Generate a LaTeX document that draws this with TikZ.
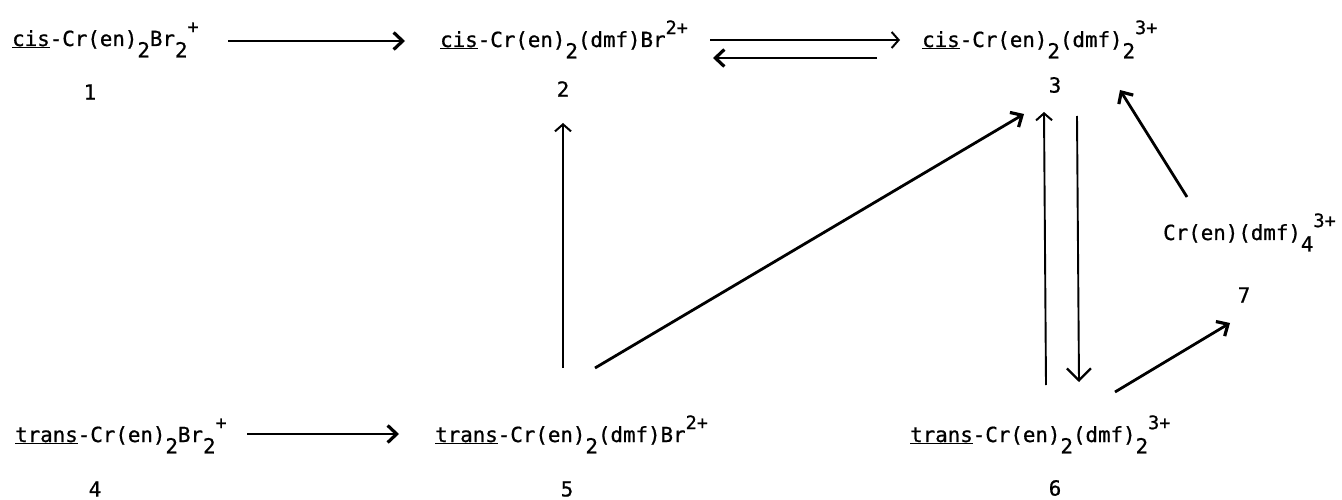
\documentclass[tikz,border=0pt]{standalone}
\usepackage{fontspec}
\usetikzlibrary{arrows.meta}
\newfontfamily\tw[FakeBold=0.8]{DejaVu Sans Mono}
\newcommand\lo[1]{\raisebox{-0.55em}{#1}}
\newcommand\hi[1]{\raisebox{0.62em}{\fontsize{18.5}{20}\selectfont #1}}
\tikzset{
  cmpd/.style={anchor=base west, inner sep=0pt, font=\tw\fontsize{20.8}{24}\selectfont},
  lab/.style={inner sep=0pt, font=\tw\fontsize{20.8}{24}\selectfont},
  arr/.style={line width=2.8pt, -{Straight Barb[length=9pt,width=17pt,line width=3.2pt]}},
  thinarr/.style={line width=1.9pt, -{Straight Barb[length=7pt,width=16pt,line width=2pt]}},
  bigthin/.style={line width=1.9pt, -{Straight Barb[length=12pt,width=24pt,line width=2.3pt]}},
}
\begin{document}
\begin{tikzpicture}[x=1pt,y=-1pt]
\useasboundingbox (0,0) rectangle (1342,500);
% compounds
\node[cmpd] (c1) at (12,46) {\underline{cis}-Cr(en)\lo{2}Br\lo{2}\hi{+}};
\node[lab] (l1) at (90,92) {1};
\node[cmpd] (c2) at (440,47) {\underline{cis}-Cr(en)\lo{2}(dmf)Br\hi{2+}};
\node[lab] (l2) at (563,89) {2};
\node[cmpd] (c3) at (922,47) {\underline{cis}-Cr(en)\lo{2}(dmf)\lo{2}\hi{3+}};
\node[lab] (l3) at (1055,85) {3};
\node[cmpd] (c4) at (15,442) {\underline{trans}-Cr(en)\lo{2}Br\lo{2}\hi{+}};
\node[lab] (l4) at (95,489) {4};
\node[cmpd] (c5) at (435,442) {\underline{trans}-Cr(en)\lo{2}(dmf)Br\hi{2+}};
\node[lab] (l5) at (567,489) {5};
\node[cmpd] (c6) at (910,442) {\underline{trans}-Cr(en)\lo{2}(dmf)\lo{2}\hi{3+}};
\node[lab] (l6) at (1055,488) {6};
\node[cmpd] (c7) at (1163,240) {Cr(en)(dmf)\lo{4}\hi{3+}};
\node[lab] (l7) at (1244,295) {7};
% connector ends
\coordinate (a12s) at (228,41);  \coordinate (a12e) at (405,41);
\coordinate (a23s) at (710,40);  \coordinate (a23e) at (900,40);
\coordinate (a32s) at (877,58);  \coordinate (a32e) at (713,58);
\coordinate (a45s) at (247,434); \coordinate (a45e) at (399,434);
\coordinate (a52s) at (563,368); \coordinate (a52e) at (563,123);
\coordinate (a53s) at (595,368); \coordinate (a53e) at (1024,114);
\coordinate (a63s) at (1046,385); \coordinate (a63e) at (1044,112);
\coordinate (a36s) at (1077,116); \coordinate (a36e) at (1079,382);
\coordinate (a73s) at (1187,197); \coordinate (a73e) at (1120,90);
\coordinate (a67s) at (1115,392); \coordinate (a67e) at (1230,323);
% connectors
\draw[arr] (a12s) -- (a12e);
\draw[thinarr] (a23s) -- (a23e);
\draw[arr] (a32s) -- (a32e);
\draw[arr] (a45s) -- (a45e);
\draw[thinarr] (a52s) -- (a52e);
\draw[arr] (a53s) -- (a53e);
\draw[thinarr] (a63s) -- (a63e);
\draw[bigthin] (a36s) -- (a36e);
\draw[arr] (a73s) -- (a73e);
\draw[arr] (a67s) -- (a67e);
\end{tikzpicture}
\end{document}
